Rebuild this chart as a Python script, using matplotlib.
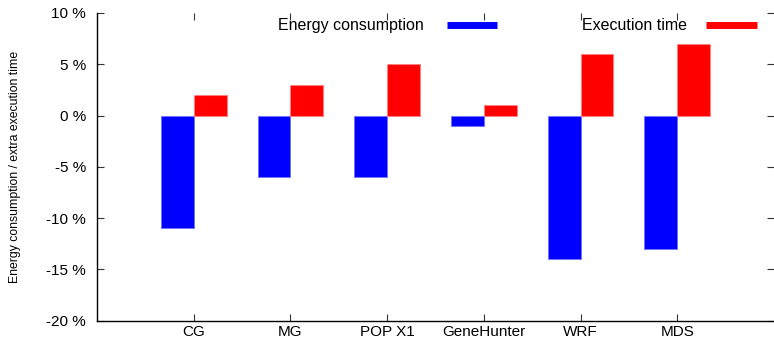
import matplotlib
matplotlib.use("Agg")
import matplotlib.pyplot as plt
import numpy as np

# data
categories = ["CG", "MG", "POP X1", "GeneHunter", "WRF", "MDS"]
energy = [-11, -6, -6, -1, -14, -13]
exec_time = [2, 3, 5, 1, 6, 7]
y_ticks = [-20, -15, -10, -5, 0, 5, 10]

plt.rcParams['font.family'] = ['Liberation Sans', 'DejaVu Sans']

fig = plt.figure(figsize=(7.74, 3.39), dpi=100)
ax = fig.add_axes([97 / 774, 18.5 / 339, 677 / 774, 307.5 / 339])

x = np.arange(1, len(categories) + 1)
w = 0.34
ax.bar(x - w / 2, energy, width=w, color="#0000ff", edgecolor="#7070ff", linewidth=0.6)
ax.bar(x + w / 2, exec_time, width=w, color="#ff0000", edgecolor="#ff8080",
       linewidth=0.8, linestyle=(0, (2, 2)))

ax.set_xlim(0, 7)
ax.set_ylim(-20, 10)
ax.set_xticks(x)
ax.set_xticklabels(categories, fontsize=11)
ax.set_yticks(y_ticks)
ax.set_yticklabels([f"{v} %" for v in y_ticks], fontsize=11)

ax.spines['top'].set_visible(False)
ax.spines['right'].set_visible(False)
ax.spines['left'].set_linewidth(1.0)
ax.spines['bottom'].set_linewidth(1.0)
ax.tick_params(axis='both', direction='in', length=5, width=0.8,
               top=True, right=True, color='#333333')
ax.tick_params(axis='y', pad=8)
ax.tick_params(axis='x', pad=3)

# gnuplot style key along the top
key_y = 0.96
ax.text(0.268, key_y, "Energy consumption", transform=ax.transAxes,
        fontsize=11.5, va='center', ha='left')
ax.plot([0.5164, 0.5913], [key_y, key_y], transform=ax.transAxes,
        color="#0000ff", linewidth=5, solid_capstyle='butt', clip_on=False)
ax.text(0.7164, key_y, "Execution time", transform=ax.transAxes,
        fontsize=11.5, va='center', ha='left')
ax.plot([0.899, 0.9745], [key_y, key_y], transform=ax.transAxes,
        color="#ff0000", linewidth=5, solid_capstyle='butt', clip_on=False)

fig.text(15 / 774, 1 - 167 / 339, "Energy consumption / extra execution time",
         rotation=90, ha='center', va='center', fontsize=8.8)

fig.savefig("out.png", dpi=100)
